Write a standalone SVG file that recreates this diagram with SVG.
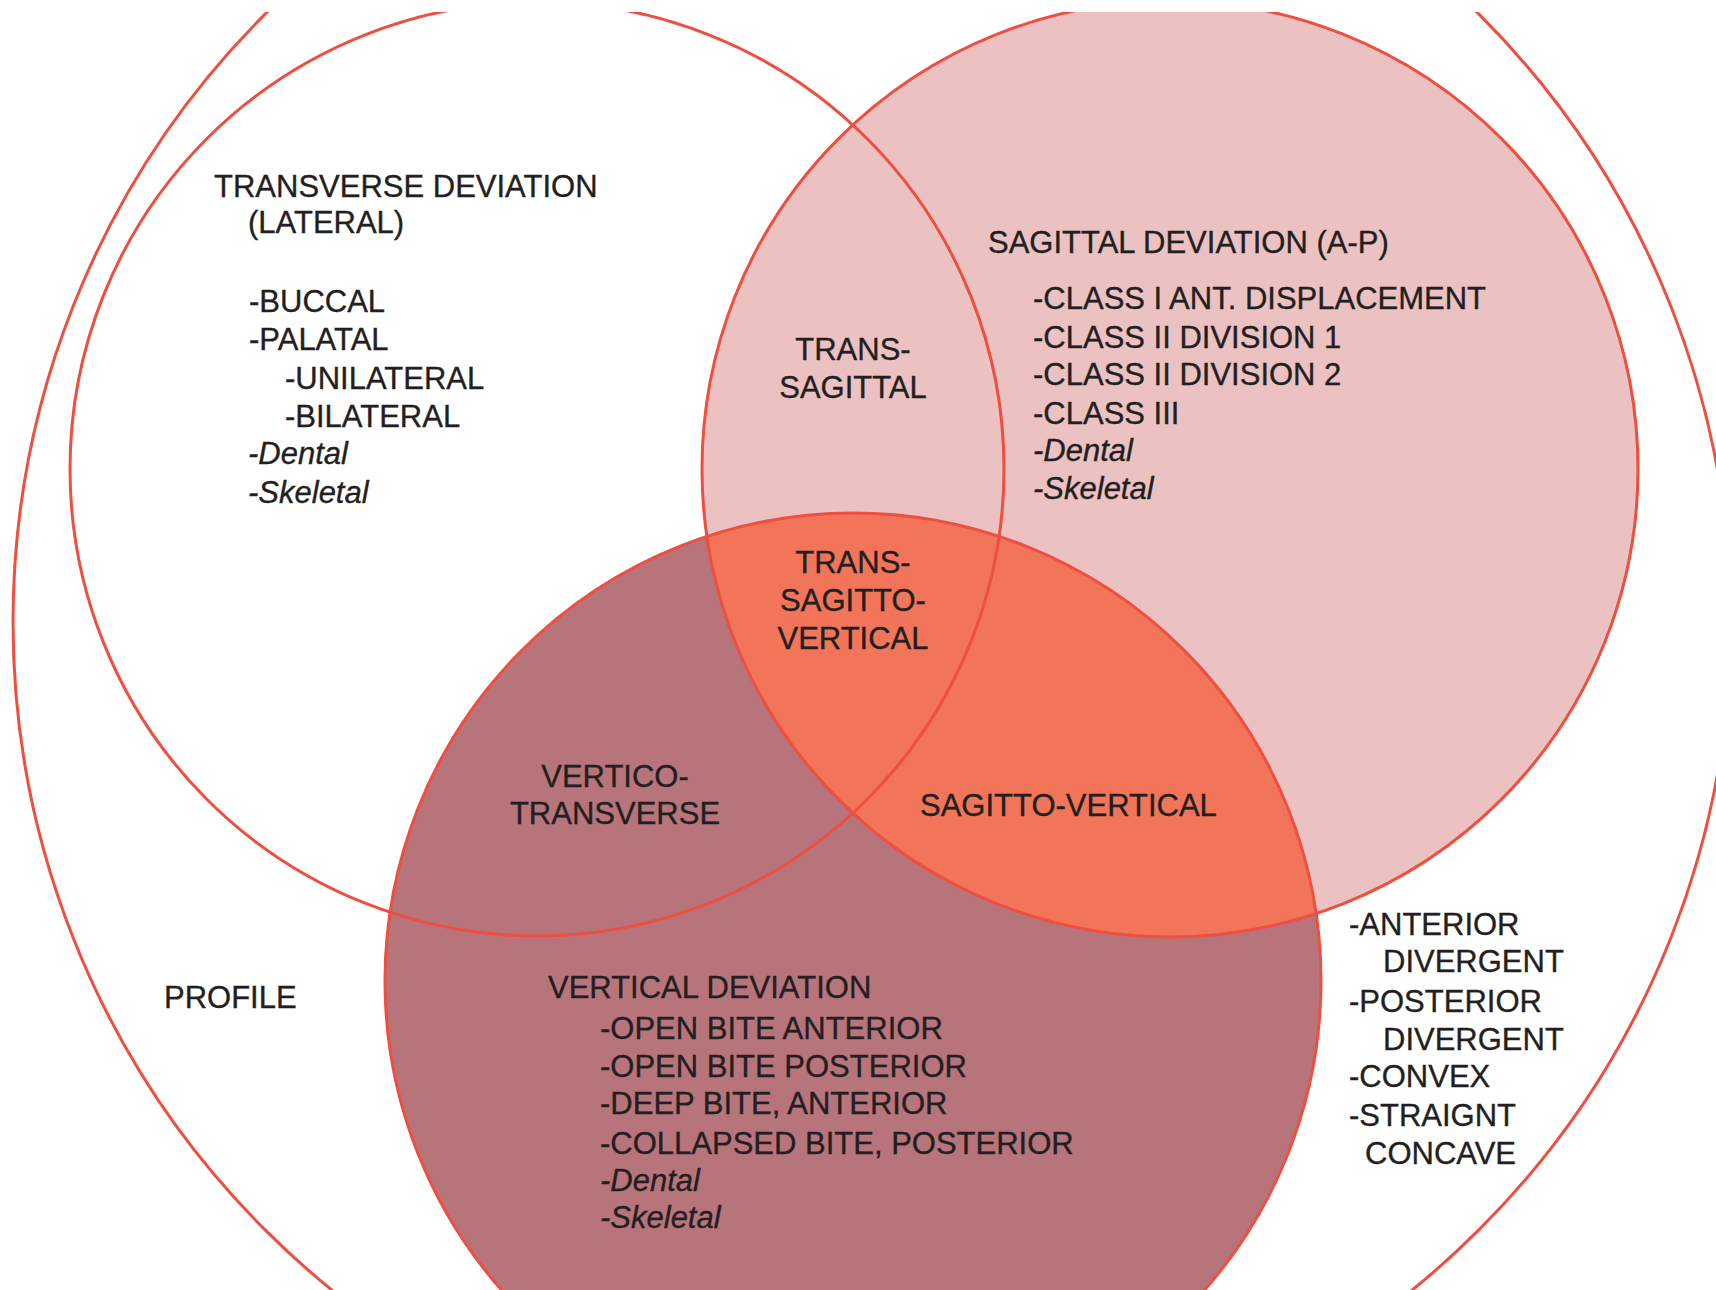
<svg xmlns="http://www.w3.org/2000/svg" width="1716" height="1290" viewBox="0 0 1716 1290">
  <style>
    text { font-family: "Liberation Sans", Arial, sans-serif; font-size: 31px; fill: #231f20; stroke: #231f20; stroke-width: 0.35; }
    .it { font-style: italic; }
    .mid { text-anchor: middle; }
    .ring { fill: none; stroke: #ee4f40; stroke-width: 3; }
  </style>
  <defs>
    <clipPath id="frame"><rect x="0" y="12" width="1716" height="1278"/></clipPath>
    <clipPath id="clipRight"><circle cx="1170" cy="469" r="468"/></clipPath>
  </defs>
  <rect x="0" y="0" width="1716" height="1290" fill="#ffffff"/>
  <g clip-path="url(#frame)">
    <g id="profile">
      <circle cx="872" cy="622" r="859" fill="#ffffff"/>
    </g>
    <g id="transverse">
      <circle cx="537" cy="469" r="467" fill="#ffffff"/>
    </g>
    <g id="sagittal">
      <circle cx="1170" cy="469" r="468" fill="#ebc2c1"/>
    </g>
    <g id="vertical">
      <circle cx="853" cy="981" r="468" fill="#b8747b"/>
    </g>
    <g id="sagitto-vertical-area">
      <circle cx="853" cy="981" r="468" fill="#f27459" clip-path="url(#clipRight)"/>
    </g>
    <g id="outlines">
      <circle class="ring" cx="872" cy="622" r="859"/>
      <circle class="ring" cx="537" cy="469" r="467"/>
      <circle class="ring" cx="1170" cy="469" r="468"/>
      <circle class="ring" cx="853" cy="981" r="468"/>
    </g>
  </g>

  <g id="label-transverse">
    <text x="214" y="197">TRANSVERSE DEVIATION</text>
    <text x="248" y="233">(LATERAL)</text>
    <text x="249" y="312">-BUCCAL</text>
    <text x="249" y="350">-PALATAL</text>
    <text x="285" y="389">-UNILATERAL</text>
    <text x="285" y="427">-BILATERAL</text>
    <text class="it" x="248" y="464">-Dental</text>
    <text class="it" x="248" y="503">-Skeletal</text>
  </g>

  <g id="label-sagittal">
    <text x="988" y="253">SAGITTAL DEVIATION (A-P)</text>
    <text x="1033" y="309">-CLASS I ANT. DISPLACEMENT</text>
    <text x="1033" y="348">-CLASS II DIVISION 1</text>
    <text x="1033" y="385">-CLASS II DIVISION 2</text>
    <text x="1033" y="424">-CLASS III</text>
    <text class="it" x="1033" y="461">-Dental</text>
    <text class="it" x="1033" y="499">-Skeletal</text>
  </g>

  <g id="label-trans-sagittal">
    <text class="mid" x="853" y="360">TRANS-</text>
    <text class="mid" x="853" y="398">SAGITTAL</text>
  </g>

  <g id="label-trans-sagitto-vertical">
    <text class="mid" x="853" y="573">TRANS-</text>
    <text class="mid" x="853" y="611">SAGITTO-</text>
    <text class="mid" x="853" y="649">VERTICAL</text>
  </g>

  <g id="label-vertico-transverse">
    <text class="mid" x="615" y="787">VERTICO-</text>
    <text class="mid" x="615" y="824">TRANSVERSE</text>
  </g>

  <g id="label-sagitto-vertical">
    <text x="920" y="816">SAGITTO-VERTICAL</text>
  </g>

  <g id="label-profile">
    <text x="164" y="1008">PROFILE</text>
  </g>

  <g id="label-vertical">
    <text x="548" y="998">VERTICAL DEVIATION</text>
    <text x="600" y="1039">-OPEN BITE ANTERIOR</text>
    <text x="600" y="1077">-OPEN BITE POSTERIOR</text>
    <text x="600" y="1114">-DEEP BITE, ANTERIOR</text>
    <text x="600" y="1154">-COLLAPSED BITE, POSTERIOR</text>
    <text class="it" x="600" y="1191">-Dental</text>
    <text class="it" x="600" y="1228">-Skeletal</text>
  </g>

  <g id="label-profile-list">
    <text x="1349" y="935">-ANTERIOR</text>
    <text x="1383" y="972">DIVERGENT</text>
    <text x="1349" y="1012">-POSTERIOR</text>
    <text x="1383" y="1050">DIVERGENT</text>
    <text x="1349" y="1087">-CONVEX</text>
    <text x="1349" y="1126">-STRAIGNT</text>
    <text x="1365" y="1164">CONCAVE</text>
  </g>
</svg>
